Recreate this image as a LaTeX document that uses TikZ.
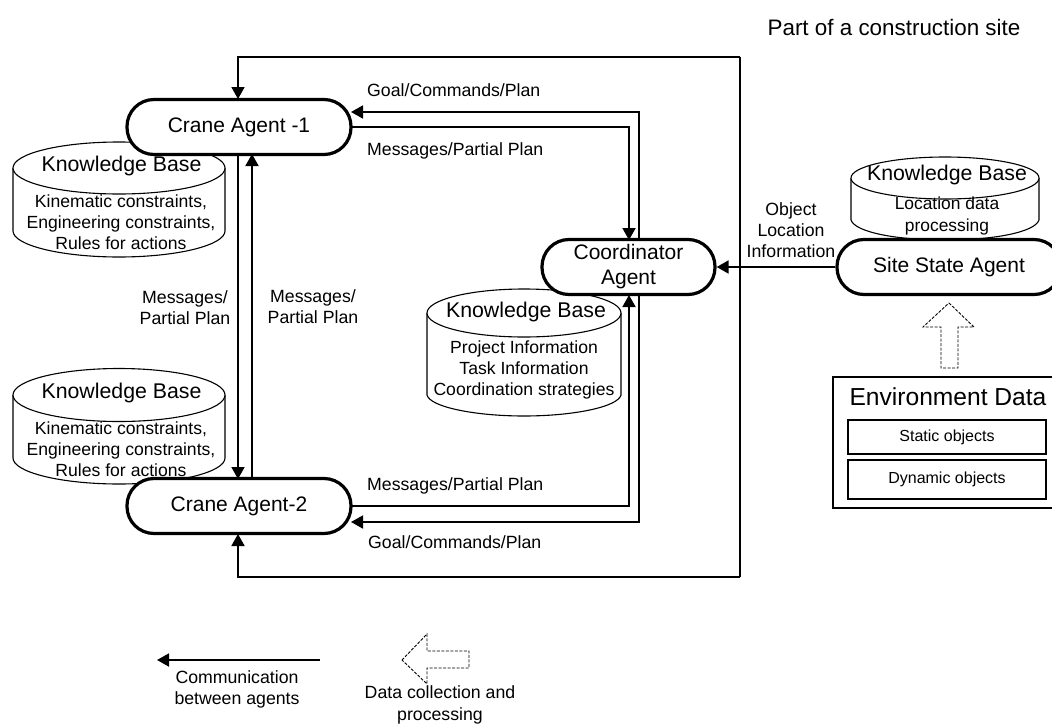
\documentclass[tikz,border=0pt]{standalone}
\usepackage{fontspec}
\setmainfont{Liberation Sans}
\usetikzlibrary{arrows.meta}
\newcommand{\fs}[2]{\fontsize{#1pt}{#2pt}\selectfont}
\tikzset{
  agent/.style={draw=black,line width=3.2pt,fill=white,rounded corners=27pt,minimum height=55pt,inner sep=0pt,align=center,font=\fs{21}{25}},
  lnk/.style={line width=1.8pt,draw=black,-{Triangle[length=12pt,width=13pt]}},
  link/.style={line width=1.8pt,draw=black},
  kbbody/.style={draw=black,line width=1.1pt,fill=white},
  kbtitle/.style={inner sep=0pt,font=\fs{21.3}{24}},
  kbtext/.style={inner sep=0pt,align=center,font=\fs{17.6}{20.8}},
  lab/.style={inner sep=0pt,align=center,font=\fs{17.7}{21}},
  labl/.style={inner sep=0pt,anchor=west,font=\fs{17.7}{21}},
  hollow/.style={draw=black,line width=0.9pt,dash pattern=on 3pt off 1.5pt,fill=white},
  envbox/.style={draw=black,line width=2.2pt,fill=white},
  objbox/.style={draw=black,line width=1.2pt,fill=white,inner sep=0pt,font=\fs{16}{18}}
}
\begin{document}
\begin{tikzpicture}[x=1pt,y=-1pt]
\useasboundingbox (0,0) rectangle (1052,723);
\clip (0,0) rectangle (1052,723);

% cylinders
\draw[kbbody] (13,168) -- (13,231) .. controls (13,245) and (60,257) .. (119,257) .. controls (178,257) and (225,245) .. (225,231) -- (225,168);
\draw[kbbody] (119,168) ellipse[x radius=106,y radius=26];
\draw[kbbody] (13,395) -- (13,458) .. controls (13,472) and (60,484) .. (119,484) .. controls (178,484) and (225,472) .. (225,458) -- (225,395);
\draw[kbbody] (119,395) ellipse[x radius=106,y radius=26.5];
\draw[kbbody] (427,313) -- (427,395) .. controls (430,407) and (475,416) .. (524,416) .. controls (573,416) and (618,407) .. (621,395) -- (621,313);
\draw[kbbody] (524,313) ellipse[x radius=97,y radius=24];
\draw[kbbody] (851,178) -- (851,220) .. controls (855,232) and (895,240) .. (945,240) .. controls (995,240) and (1035,232) .. (1039,220) -- (1039,178);
\draw[kbbody] (945,178) ellipse[x radius=94,y radius=21];

\node[kbtitle] (kb1t) at (121.5,166) {Knowledge Base};
\node[kbtext] (kb1b) at (121,222) {Kinematic constraints,\\Engineering constraints,\\Rules for actions};
\node[kbtitle] (kb2t) at (121.5,393) {Knowledge Base};
\node[kbtext] (kb2b) at (121,449) {Kinematic constraints,\\Engineering constraints,\\Rules for actions};
\node[kbtitle] (kb3t) at (526,312) {Knowledge Base};
\node[kbtext] (kb3b) at (524,370) {Project Information\\Task Information\\Coordination strategies};
\node[kbtitle] (kb4t) at (947,175) {Knowledge Base};
\node[kbtext,font=\fs{17.4}{22}] (kb4b) at (947,216) {Location data\\processing};

% agents
\node[agent,minimum width=224pt] (crane1) at (239,127) {Crane Agent -1};
\node[agent,minimum width=224pt] (crane2) at (239,506) {Crane Agent-2};
\node[agent,minimum width=173pt] (coord) at (628.5,267) {Coordinator\\Agent};
\node[agent,minimum width=224pt] (site) at (949,267) {Site State Agent};

% named end points
\coordinate (c1a) at (238,154);
\coordinate (c1b) at (252,154);
\coordinate (c2a) at (238,479);
\coordinate (c2b) at (252,479);
\coordinate (c1g) at (351,112);
\coordinate (c1m) at (351,127);
\coordinate (c2m) at (351,506);
\coordinate (c2g) at (351,522);
\coordinate (cot1) at (629,240);
\coordinate (cot2) at (639,240);
\coordinate (cob1) at (629,295);
\coordinate (cob2) at (639,295);
\coordinate (c1top) at (238,99);
\coordinate (c2bot) at (238,534);
\coordinate (loopa) at (740,57);
\coordinate (loopb) at (740,577);

% connectors
\draw[lnk] (c1a) -- (c2a);
\draw[lnk] (c2b) -- (c1b);
\draw[lnk] (cot2) |- (c1g);
\draw[lnk] (c1m) -| (cot1);
\draw[lnk] (c2m) -| (cob1);
\draw[lnk] (cob2) |- (c2g);
\draw[lnk] (site.west) -- (coord.east);
\draw[lnk] (loopa) -| (c1top);
\draw[lnk] (loopb) -| (c2bot);
\draw[link] (loopa) -- (loopb);

% labels
\node[inner sep=0pt,font=\fs{22.4}{24}] (title) at (894,27) {Part of a construction site};
\node[labl] (l1) at (367,90) {Goal/Commands/Plan};
\node[labl] (l2) at (367,151) {Messages/Partial Plan};
\node[labl] (l3) at (367,486) {Messages/Partial Plan};
\node[labl] (l4) at (368,542) {Goal/Commands/Plan};
\node[lab] (l5) at (185,307.5) {Messages/\\Partial Plan};
\node[lab] (l6) at (313,306.5) {Messages/\\Partial Plan};
\node[lab] (l7) at (791,230.5) {Object\\Location\\Information};

% environment data
\draw[hollow] (949,303) -- (974,327) -- (958,327) -- (958,368) -- (941,368) -- (941,327) -- (923,327) -- cycle;
\draw[envbox] (1060,377) -- (833,377) -- (833,508) -- (1060,508);
\node[inner sep=0pt,font=\fs{24.6}{28}] (envt) at (948,397) {Environment Data};
\node[objbox,minimum width=198pt,minimum height=34pt] (st) at (947,437) {Static objects};
\node[objbox,minimum width=198pt,minimum height=39pt] (dy) at (947,479.5) {Dynamic objects};

% legend
\coordinate (lega) at (320,660);
\coordinate (legb) at (157,660);
\draw[lnk] (lega) -- (legb);
\node[lab] (lt1) at (237,689.5) {Communication\\between agents};
\draw[hollow] (402,660) -- (427,634) -- (427,651) -- (469,651) -- (469,668) -- (427,668) -- (427,684) -- cycle;
\node[lab,font=\fs{17.7}{22}] (lt2) at (440,705) {Data collection and\\processing};
\end{tikzpicture}
\end{document}
